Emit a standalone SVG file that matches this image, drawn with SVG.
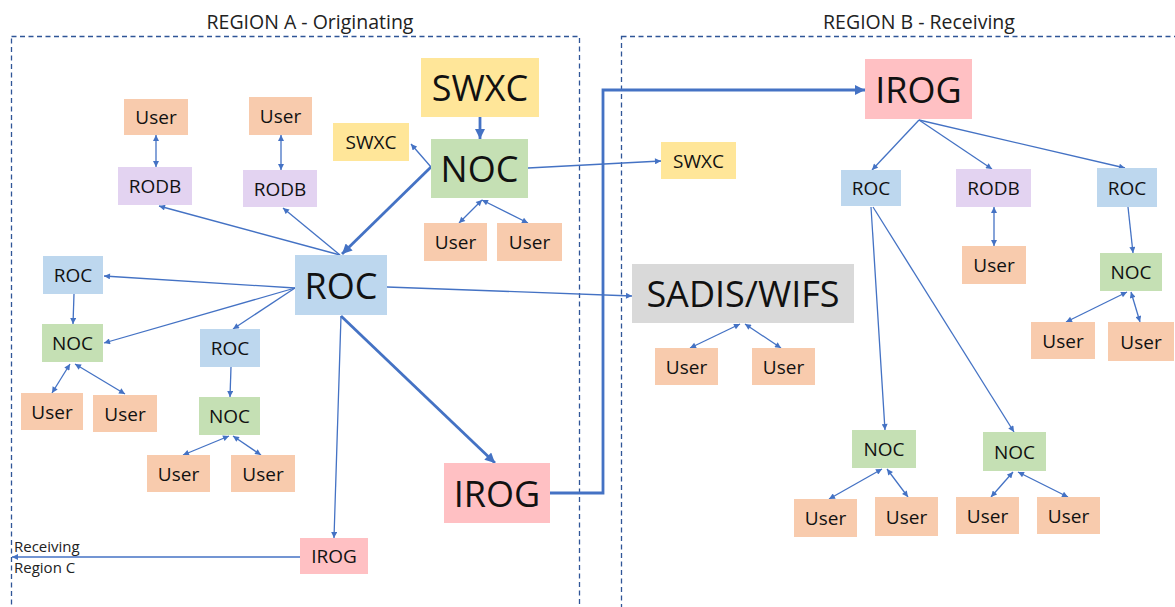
<svg xmlns="http://www.w3.org/2000/svg" width="1175" height="607" viewBox="0 0 1175 607">
<style>
text{font-family:"Open Sans","Noto Sans","Liberation Sans",sans-serif;fill:#111;text-anchor:middle;dominant-baseline:central}
.s{font-size:19px}
.b{font-size:36px}
.t{font-size:19.5px;fill:#222}
.note{font-size:15px;text-anchor:start;dominant-baseline:auto;fill:#222}
.user{fill:#F8CBAD}
.rodb{fill:#E3D3F1}
.roc{fill:#BDD7EE}
.noc{fill:#C5E0B4}
.swxc{fill:#FFE699}
.irog{fill:#FFC0C3}
.sadis{fill:#D9D9D9}
.region{fill:none;stroke:#2F5597;stroke-width:1.3;stroke-dasharray:5 3.5}
.c{fill:none;stroke:#4472C4;stroke-width:1.3}
.ck{fill:none;stroke:#4472C4;stroke-width:2.8}
.e{marker-end:url(#a)}
.d{marker-start:url(#a);marker-end:url(#a)}
.ek{marker-end:url(#ak)}
</style>
<defs>
<marker id="a" viewBox="0 0 10 10" refX="10" refY="5" markerWidth="7" markerHeight="6" markerUnits="userSpaceOnUse" orient="auto-start-reverse"><path d="M0,0 L10,5 L0,10 z" fill="#4472C4"/></marker>
<marker id="ak" viewBox="0 0 10 10" refX="10" refY="5" markerWidth="11" markerHeight="10" markerUnits="userSpaceOnUse" orient="auto"><path d="M0,0 L10,5 L0,10 z" fill="#4472C4"/></marker>
</defs>
<rect width="1175" height="607" fill="#fff"/>
<g id="regions">
<rect class="region" x="11.5" y="36.5" width="568" height="600"/>
<rect class="region" x="621.5" y="36.5" width="600" height="600"/>
<text class="t" x="310" y="21">REGION A - Originating</text>
<text class="t" x="919" y="21">REGION B - Receiving</text>
</g>
<g id="connectors">
<line class="c d" x1="156" y1="135" x2="156" y2="167"/>
<line class="c d" x1="281" y1="135" x2="281" y2="170"/>
<line class="c e" x1="340" y1="255" x2="159" y2="206"/>
<line class="c e" x1="340" y1="255" x2="283" y2="208"/>
<line class="ck ek" x1="431" y1="167" x2="342" y2="254"/>
<line class="c e" x1="431" y1="167" x2="411" y2="144"/>
<line class="ck ek" x1="480" y1="117" x2="480" y2="139"/>
<line class="c e" x1="528" y1="168" x2="661" y2="161"/>
<line class="c d" x1="482" y1="200" x2="459" y2="223"/>
<line class="c d" x1="482" y1="200" x2="528" y2="223"/>
<line class="c e" x1="295" y1="288" x2="104" y2="276"/>
<line class="c e" x1="295" y1="288" x2="104" y2="343"/>
<line class="c e" x1="295" y1="288" x2="233" y2="329"/>
<line class="c e" x1="74" y1="294" x2="73" y2="324"/>
<line class="c d" x1="70" y1="364" x2="52" y2="393"/>
<line class="c d" x1="75" y1="364" x2="125" y2="394"/>
<line class="c e" x1="231" y1="367" x2="230" y2="397"/>
<line class="c d" x1="229" y1="436" x2="183" y2="455"/>
<line class="c d" x1="233" y1="436" x2="261" y2="455"/>
<line class="c e" x1="387" y1="287" x2="632" y2="296"/>
<line class="ck ek" x1="341" y1="316" x2="495" y2="463"/>
<line class="c e" x1="341" y1="316" x2="334" y2="538"/>
<line class="c e" x1="300" y1="557" x2="12" y2="557"/>
<path class="ck ek" d="M550,493 H603 V90 H865"/>
<line class="c d" x1="740" y1="324" x2="690" y2="348"/>
<line class="c d" x1="745" y1="324" x2="781" y2="348"/>
<line class="c e" x1="919" y1="120" x2="872" y2="170"/>
<line class="c e" x1="919" y1="120" x2="992" y2="169"/>
<line class="c e" x1="919" y1="120" x2="1125" y2="168"/>
<line class="c d" x1="994" y1="207" x2="994" y2="246"/>
<line class="c e" x1="1128" y1="207" x2="1133" y2="253"/>
<line class="c d" x1="1127" y1="292" x2="1066" y2="322"/>
<line class="c d" x1="1131" y1="292" x2="1140" y2="322"/>
<line class="c e" x1="871" y1="207" x2="885" y2="430"/>
<line class="c e" x1="873" y1="207" x2="1014" y2="432"/>
<line class="c d" x1="882" y1="469" x2="829" y2="499"/>
<line class="c d" x1="887" y1="469" x2="908" y2="497"/>
<line class="c d" x1="1013" y1="472" x2="991" y2="497"/>
<line class="c d" x1="1018" y1="472" x2="1068" y2="497"/>
</g>
<g id="n-user-a1"><rect class="user" x="124" y="99" width="64" height="36"/><text class="s" x="156" y="117">User</text></g>
<g id="n-rodb-a1"><rect class="rodb" x="118" y="167" width="74" height="38"/><text class="s" x="155" y="186">RODB</text></g>
<g id="n-user-a2"><rect class="user" x="249" y="97" width="63" height="38"/><text class="s" x="280.5" y="116">User</text></g>
<g id="n-rodb-a2"><rect class="rodb" x="243" y="170" width="74" height="37"/><text class="s" x="280" y="188.5">RODB</text></g>
<g id="n-swxc-a-small"><rect class="swxc" x="333" y="123" width="76" height="38"/><text class="s" x="371" y="142">SWXC</text></g>
<g id="n-swxc-a-big"><rect class="swxc" x="421" y="58" width="118" height="59"/><text class="b" x="480" y="87.5">SWXC</text></g>
<g id="n-noc-a-big"><rect class="noc" x="431" y="139" width="97" height="59"/><text class="b" x="479.5" y="168.5">NOC</text></g>
<g id="n-user-a3"><rect class="user" x="424" y="223" width="63" height="38"/><text class="s" x="455.5" y="242">User</text></g>
<g id="n-user-a4"><rect class="user" x="497" y="223" width="65" height="38"/><text class="s" x="529.5" y="242">User</text></g>
<g id="n-swxc-b-small"><rect class="swxc" x="661" y="142" width="75" height="37"/><text class="s" x="698.5" y="160.5">SWXC</text></g>
<g id="n-roc-a-big"><rect class="roc" x="295" y="255" width="92" height="60"/><text class="b" x="341" y="285">ROC</text></g>
<g id="n-roc-a1"><rect class="roc" x="43" y="256" width="60" height="38"/><text class="s" x="73" y="275">ROC</text></g>
<g id="n-noc-a1"><rect class="noc" x="42" y="324" width="61" height="38"/><text class="s" x="72.5" y="343">NOC</text></g>
<g id="n-user-a5"><rect class="user" x="21" y="393" width="62" height="37"/><text class="s" x="52" y="411.5">User</text></g>
<g id="n-user-a6"><rect class="user" x="93" y="395" width="64" height="37"/><text class="s" x="125" y="413.5">User</text></g>
<g id="n-roc-a2"><rect class="roc" x="200" y="329" width="60" height="38"/><text class="s" x="230" y="348">ROC</text></g>
<g id="n-noc-a2"><rect class="noc" x="199" y="397" width="61" height="38"/><text class="s" x="229.5" y="416">NOC</text></g>
<g id="n-user-a7"><rect class="user" x="147" y="455" width="63" height="37"/><text class="s" x="178.5" y="473.5">User</text></g>
<g id="n-user-a8"><rect class="user" x="231" y="455" width="64" height="37"/><text class="s" x="263" y="473.5">User</text></g>
<g id="n-irog-a-big"><rect class="irog" x="444" y="463" width="106" height="60"/><text class="b" x="497" y="493">IROG</text></g>
<g id="n-irog-a-small"><rect class="irog" x="300" y="538" width="68" height="36"/><text class="s" x="334" y="556">IROG</text></g>
<g id="n-region-c-note"><text class="note" x="14" y="552">Receiving</text><text class="note" x="14" y="573">Region C</text></g>
<g id="n-sadis"><rect class="sadis" x="632" y="264" width="222" height="59"/><text class="b" x="743" y="293.5">SADIS/WIFS</text></g>
<g id="n-user-s1"><rect class="user" x="655" y="348" width="63" height="37"/><text class="s" x="686.5" y="366.5">User</text></g>
<g id="n-user-s2"><rect class="user" x="752" y="348" width="63" height="37"/><text class="s" x="783.5" y="366.5">User</text></g>
<g id="n-irog-b"><rect class="irog" x="865" y="59" width="107" height="60"/><text class="b" x="918.5" y="89">IROG</text></g>
<g id="n-roc-b1"><rect class="roc" x="841" y="170" width="60" height="36"/><text class="s" x="871" y="188">ROC</text></g>
<g id="n-rodb-b"><rect class="rodb" x="956" y="169" width="75" height="38"/><text class="s" x="993.5" y="188">RODB</text></g>
<g id="n-roc-b2"><rect class="roc" x="1097" y="168" width="60" height="39"/><text class="s" x="1127" y="187.5">ROC</text></g>
<g id="n-user-b1"><rect class="user" x="962" y="246" width="64" height="38"/><text class="s" x="994" y="265">User</text></g>
<g id="n-noc-b1"><rect class="noc" x="1100" y="253" width="62" height="38"/><text class="s" x="1131" y="272">NOC</text></g>
<g id="n-user-b2"><rect class="user" x="1031" y="322" width="64" height="37"/><text class="s" x="1063" y="340.5">User</text></g>
<g id="n-user-b3"><rect class="user" x="1108" y="322" width="66" height="39"/><text class="s" x="1141" y="341.5">User</text></g>
<g id="n-noc-b2"><rect class="noc" x="852" y="430" width="64" height="38"/><text class="s" x="884" y="449">NOC</text></g>
<g id="n-noc-b3"><rect class="noc" x="983" y="432" width="63" height="39"/><text class="s" x="1014.5" y="451.5">NOC</text></g>
<g id="n-user-b4"><rect class="user" x="794" y="499" width="63" height="38"/><text class="s" x="825.5" y="518">User</text></g>
<g id="n-user-b5"><rect class="user" x="875" y="497" width="63" height="39"/><text class="s" x="906.5" y="516.5">User</text></g>
<g id="n-user-b6"><rect class="user" x="956" y="497" width="63" height="37"/><text class="s" x="987.5" y="515.5">User</text></g>
<g id="n-user-b7"><rect class="user" x="1037" y="497" width="63" height="37"/><text class="s" x="1068.5" y="515.5">User</text></g>
</svg>
